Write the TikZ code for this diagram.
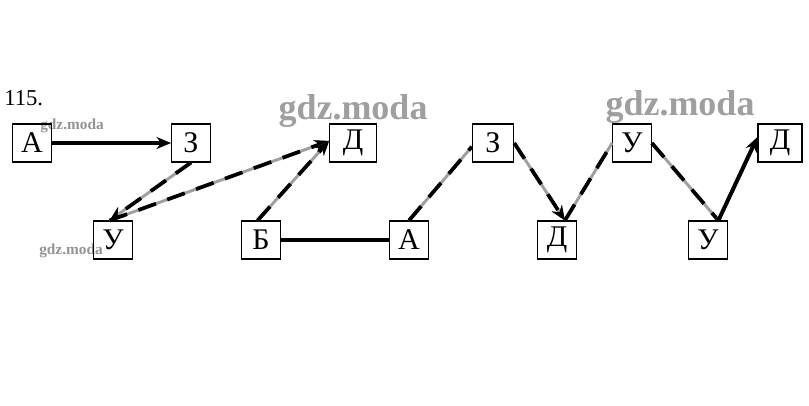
\documentclass[tikz,border=0pt]{standalone}
\usepackage{fontspec}
\setmainfont{Liberation Serif}
\usetikzlibrary{arrows.meta}
\begin{document}
\begin{tikzpicture}[x=0.75pt,y=-0.75pt,
  box/.style={draw=black,line width=0.8pt,minimum width=29pt,minimum height=28.5pt,inner sep=0pt,font=\fontsize{22.5}{22.5}\selectfont},
  conn/.style={line width=2.8pt,draw=black,dash pattern=on 14pt off 9pt,preaction={draw=gray!75,line width=2.2pt,solid}},
  solidconn/.style={line width=3pt,draw=black},
  tip/.style={-{Stealth[length=11pt,width=9pt]}},
  wmbig/.style={text=gray!75,font=\bfseries\fontsize{27}{27}\selectfont,inner sep=0pt},
  wmsmall/.style={text=gray!85,font=\bfseries\fontsize{11.5}{11.5}\selectfont,inner sep=0pt}]
\useasboundingbox (0,0) rectangle (809,405);
\node[anchor=west,inner sep=0pt,font=\fontsize{17}{17}\selectfont] (num) at (4,98) {115.};
\node[wmbig] (wm1) at (353,111) {gdz.moda};
\node[wmbig] (wm2) at (680,107) {gdz.moda};
\node[wmsmall] (wm3) at (72,126) {gdz.moda};
\node[wmsmall] (wm4) at (71,251) {gdz.moda};
\node[box] (A1) at (32,143) {А};
\node[box] (Z1) at (191,143) {З};
\node[box] (U1) at (113,240) {У};
\node[box] (B1) at (261,240) {Б};
\node[box,minimum width=35pt] (D1) at (353,143) {Д};
\node[box] (A2) at (409,240) {А};
\node[box,minimum width=31pt] (Z2) at (493,143) {З};
\node[box] (D2) at (557,240) {Д};
\node[box] (U2) at (632,143) {У};
\node[box] (U3) at (708,240) {У};
\node[box,minimum width=33pt] (D3) at (780,143) {Д};
\draw[solidconn,tip] (A1.east) -- (Z1.west);
\draw[conn,tip] (Z1.south) -- (U1.100);
\draw[conn,tip] (U1.100) -- (D1.175);
\draw[conn,tip] (B1.100) -- (D1.175);
\draw[solidconn] (B1.east) -- (A2.west);
\draw[conn] (A2.north) -- (Z2.190);
\draw[conn,tip] (Z2.east) -- (D2.68);
\draw[conn] (D2.68) -- (U2.west);
\draw[conn] (U2.east) -- (U3.62);
\draw[solidconn,tip] (U3.62) -- (D3.165);
\end{tikzpicture}
\end{document}
